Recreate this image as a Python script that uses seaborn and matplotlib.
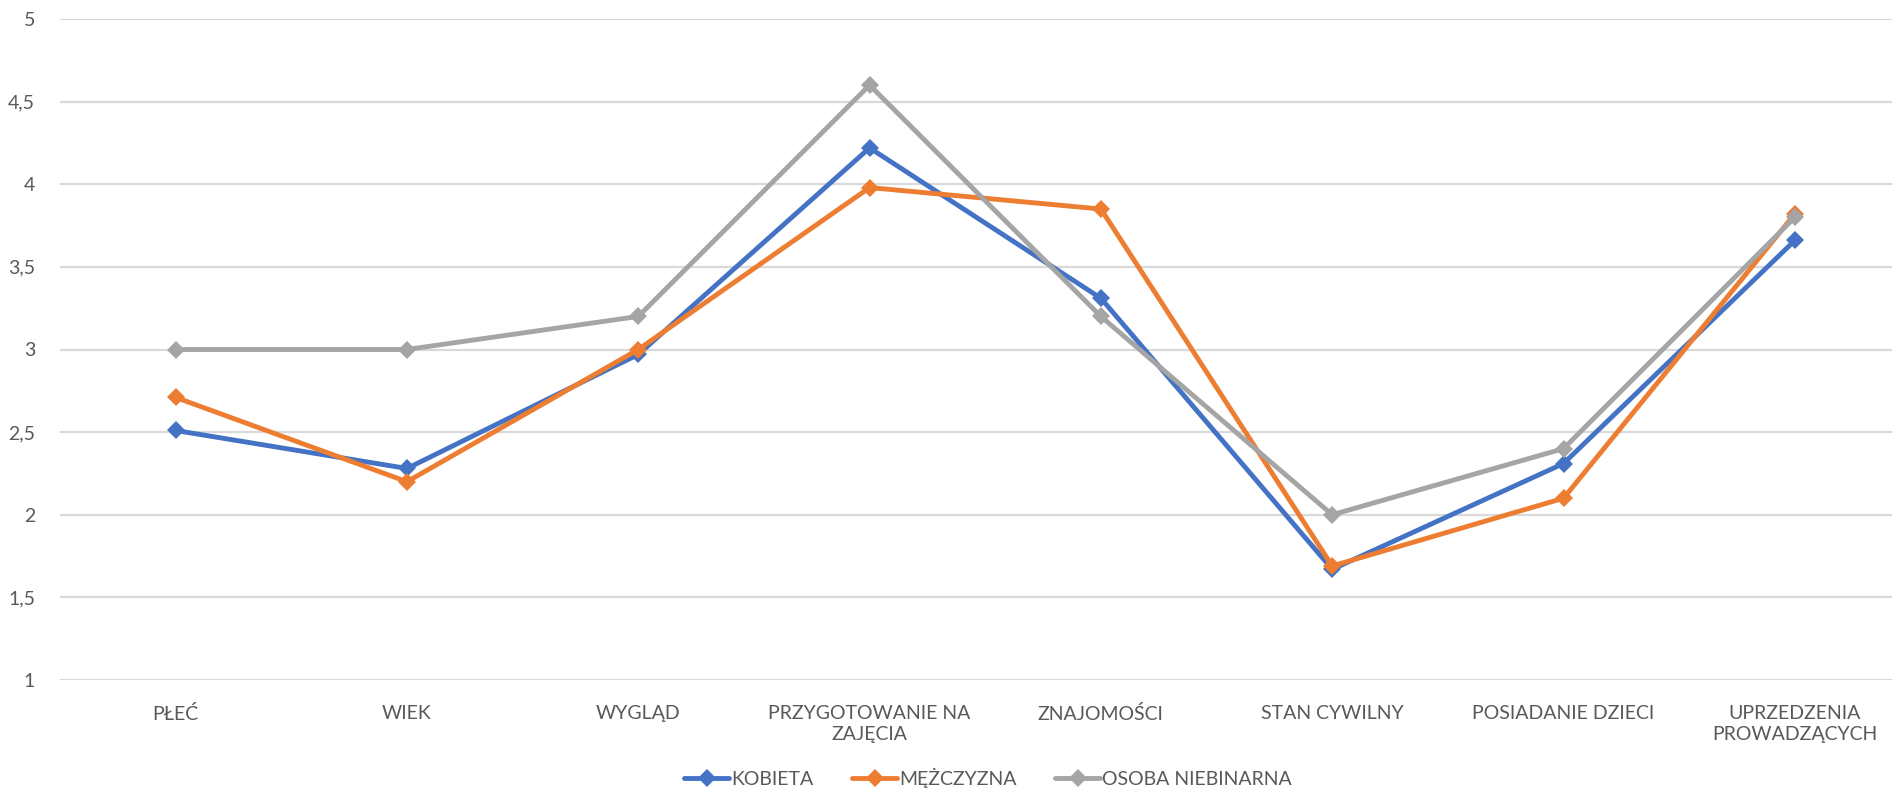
import matplotlib
matplotlib.use("Agg")
import matplotlib.pyplot as plt
from matplotlib.ticker import FuncFormatter, MultipleLocator
import seaborn as sns
import pandas as pd

categories = ["PŁEĆ", "WIEK", "WYGLĄD", "PRZYGOTOWANIE NA\nZAJĘCIA", "ZNAJOMOŚCI",
              "STAN CYWILNY", "POSIADANIE DZIECI", "UPRZEDZENIA\nPROWADZĄCYCH"]
kobieta = [2.51, 2.28, 2.97, 4.22, 3.31, 1.67, 2.31, 3.66]
mezczyzna = [2.71, 2.20, 3.00, 3.98, 3.85, 1.69, 2.10, 3.82]
niebinarna = [3.0, 3.0, 3.2, 4.6, 3.2, 2.0, 2.4, 3.8]
series_names = ["KOBIETA", "MĘŻCZYZNA", "OSOBA NIEBINARNA"]
colors = ["#4472C4", "#ED7D31", "#A5A5A5"]

sns.set_style("white")
plt.rcParams['font.family'] = ['Lato', 'DejaVu Sans']

rows = []
for name, vals in zip(series_names, [kobieta, mezczyzna, niebinarna]):
    for i, v in enumerate(vals):
        rows.append({"idx": i, "value": v, "series": name})
df = pd.DataFrame(rows)

fig = plt.figure(figsize=(18.92, 7.9), dpi=100)
ax = fig.add_axes([60 / 1892, 110 / 790, 1832 / 1892, 661 / 790])

sns.lineplot(data=df, x="idx", y="value", hue="series", hue_order=series_names,
             palette=colors, style="series", markers=["D"] * 3, dashes=False,
             markersize=9, markeredgewidth=0, linewidth=3.5, ax=ax)

ax.set_xlim(-0.5, 7.42)
ax.set_ylim(1, 5)
ax.yaxis.set_major_locator(MultipleLocator(0.5))
ax.yaxis.set_major_formatter(FuncFormatter(lambda v, p: f"{v:g}".replace(".", ",")))
ax.set_xticks(range(len(categories)))
ax.set_xticklabels(categories, fontsize=14, color="#595959", linespacing=1.3)
ax.tick_params(axis="y", labelsize=14, labelcolor="#595959", length=0, pad=18)
ax.tick_params(axis="x", length=0, pad=18)
ax.grid(axis="y", color="#D9D9D9", linewidth=1.6)
ax.set_axisbelow(True)
for s in ax.spines.values():
    s.set_visible(False)
ax.set_xlabel("")
ax.set_ylabel("")

handles, labels = ax.get_legend_handles_labels()
ax.legend(handles, labels, loc="center", bbox_to_anchor=(0.5 + 12 / 1832, -98 / 661),
          ncol=3, frameon=False, fontsize=14, labelcolor="#595959",
          handlelength=2.3, handletextpad=0.1, columnspacing=2.0)

fig.savefig("out.png", dpi=100)
